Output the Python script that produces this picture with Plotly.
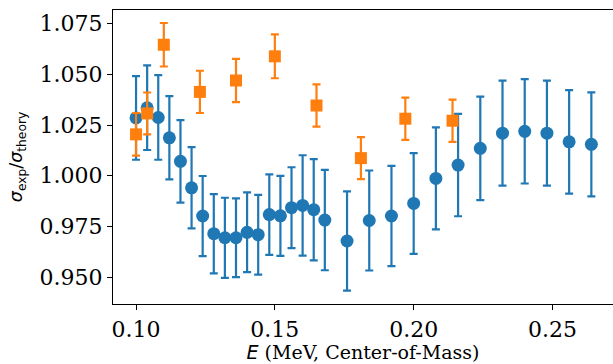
import plotly.graph_objects as go

# Blue series (circles)
blue_E = [0.100, 0.104, 0.108, 0.112, 0.116, 0.120, 0.124, 0.128, 0.132, 0.136,
          0.140, 0.144, 0.148, 0.152, 0.156, 0.160, 0.164, 0.168, 0.176, 0.184,
          0.192, 0.200, 0.208, 0.216, 0.224, 0.232, 0.240, 0.248, 0.256, 0.264]
blue_ratio = [1.0285, 1.0335, 1.0287, 1.0187, 1.0071, 0.9941, 0.9802, 0.9715, 0.9695, 0.9695,
              0.9722, 0.9710, 0.9809, 0.9803, 0.9843, 0.9854, 0.9833, 0.9782, 0.9679, 0.9780,
              0.9802, 0.9864, 0.9987, 1.0053, 1.0135, 1.0210, 1.0219, 1.0210, 1.0167, 1.0155]
blue_err = [0.0206, 0.0208, 0.0208, 0.0205, 0.0203, 0.0200, 0.0197, 0.0195, 0.0197, 0.0194,
            0.0196, 0.0196, 0.0198, 0.0197, 0.0199, 0.0247, 0.0249, 0.0247, 0.0244, 0.0246,
            0.0247, 0.0248, 0.0251, 0.0252, 0.0255, 0.0258, 0.0257, 0.0258, 0.0255, 0.0256]

# Orange series (squares)
orange_E = [0.100, 0.104, 0.110, 0.123, 0.136, 0.150, 0.165, 0.181, 0.197, 0.214]
orange_ratio = [1.0204, 1.0307, 1.0645, 1.0413, 1.0469, 1.0588, 1.0346, 1.0087, 1.0281, 1.0271]
orange_err = [0.0105, 0.0103, 0.0107, 0.0104, 0.0106, 0.0108, 0.0104, 0.0103, 0.0104, 0.0104]

x_ticks = [0.10, 0.15, 0.20, 0.25]
y_ticks = [0.950, 0.975, 1.000, 1.025, 1.050, 1.075]

BLUE = "#1f77b4"
ORANGE = "#ff7f0e"

fig = go.Figure()
fig.add_trace(go.Scatter(
    x=blue_E, y=blue_ratio, mode="markers",
    marker=dict(symbol="circle", size=13, color=BLUE, line=dict(width=0)),
    error_y=dict(type="data", array=blue_err, visible=True, color=BLUE, thickness=2.2, width=4),
    showlegend=False,
))
fig.add_trace(go.Scatter(
    x=orange_E, y=orange_ratio, mode="markers",
    marker=dict(symbol="square", size=12, color=ORANGE, line=dict(width=0)),
    error_y=dict(type="data", array=orange_err, visible=True, color=ORANGE, thickness=2.2, width=4),
    showlegend=False,
))

fig.update_layout(
    width=613, height=364,
    margin=dict(l=113, r=0, t=10, b=60),
    paper_bgcolor="white", plot_bgcolor="white",
    font=dict(family="DejaVu Serif", color="black"),
)
fig.update_xaxes(
    range=[0.0917, 0.2718], tickvals=x_ticks, ticktext=[f"{v:.2f}" for v in x_ticks],
    showgrid=False, zeroline=False, showline=True, linecolor="black", linewidth=1.2,
    mirror=True, ticks="outside", ticklen=5, tickwidth=1.1, tickcolor="black",
    tickfont=dict(family="DejaVu Serif", size=22),
    title=dict(text="<span style=\"font-family:'DejaVu Sans'\"><i>E</i></span> (MeV, Center-of-Mass)",
               font=dict(family="DejaVu Serif", size=19), standoff=3),
)
fig.update_yaxes(
    range=[0.9369, 1.0816], tickvals=y_ticks, ticktext=[f"{v:.3f}" for v in y_ticks],
    showgrid=False, zeroline=False, showline=True, linecolor="black", linewidth=1.2,
    mirror=False, ticks="outside", ticklen=5, tickwidth=1.1, tickcolor="black",
    tickfont=dict(family="DejaVu Serif", size=22),
    title=dict(text="<i>σ</i><sub>exp</sub>/<i>σ</i><sub>theory</sub>",
               font=dict(family="DejaVu Sans", size=17.5), standoff=12),
)

fig.write_html("out.html")
